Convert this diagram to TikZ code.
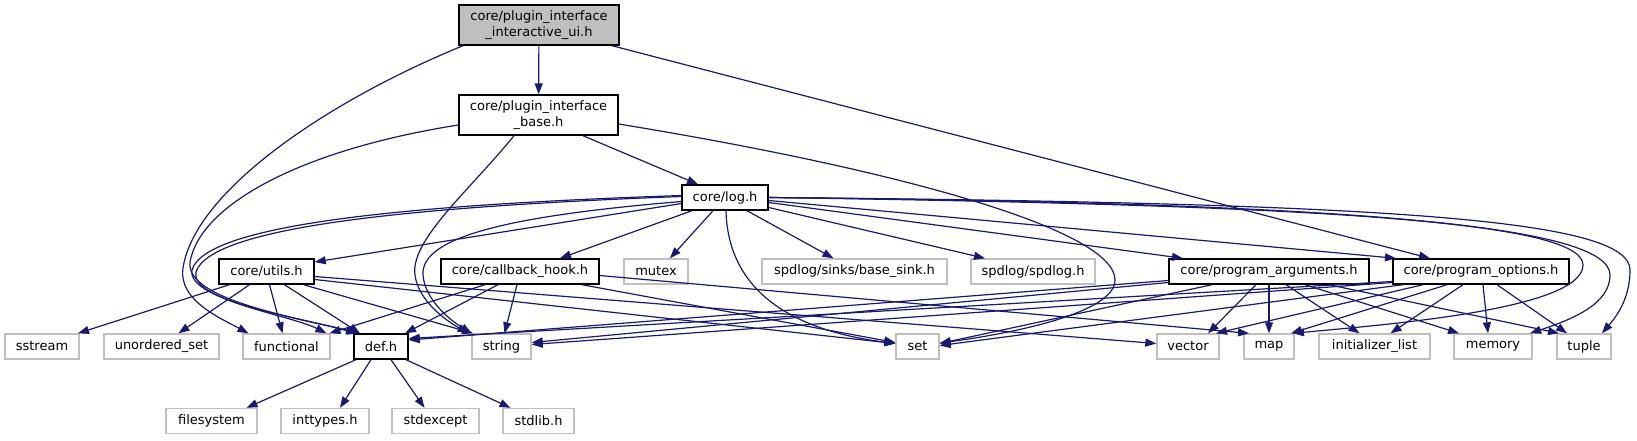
\documentclass[tikz,border=0pt]{standalone}
\usepackage{fontspec}
\setmainfont{DejaVu Sans}
\usetikzlibrary{arrows.meta}
\definecolor{edgec}{HTML}{191970}
\definecolor{grayc}{HTML}{BFBFBF}
\begin{document}
\begin{tikzpicture}[x=1pt,y=-1pt,
 every node/.style={font=\fontsize{13}{16}\selectfont, inner sep=0pt, minimum height=25pt, line width=1.4pt},
 blk/.style={draw=black, fill=white},
 gry/.style={draw=grayc, fill=white},
 e/.style={draw=edgec, line width=1.2pt, -{Triangle[length=11pt,width=8pt]}}]
\useasboundingbox (0,0) rectangle (1637,440);
% nodes
\node[blk, fill=grayc, minimum width=160pt, minimum height=40pt, align=center] (top) at (539,25) {core/plugin\_interface\\\_interactive\_ui.h};
\node[blk, minimum width=159pt, minimum height=40pt, align=center] (base) at (538.5,115) {core/plugin\_interface\\\_base.h};
\node[blk, minimum width=86pt] (log) at (725,197.5) {core/log.h};
\node[blk, minimum width=95pt] (utils) at (266.5,271.5) {core/utils.h};
\node[blk, minimum width=158pt] (callback) at (520,271.5) {core/callback\_hook.h};
\node[gry, minimum width=64pt] (mutex) at (656,271.5) {mutex};
\node[gry, minimum width=185pt] (basesink) at (854.5,271.5) {spdlog/sinks/base\_sink.h};
\node[gry, minimum width=124pt] (spdlog) at (1033,271.5) {spdlog/spdlog.h};
\node[blk, minimum width=200pt] (pargs) at (1269,271.5) {core/program\_arguments.h};
\node[blk, minimum width=176pt] (popts) at (1481,271.5) {core/program\_options.h};
\node[gry, minimum width=74pt] (sstream) at (42,346.5) {sstream};
\node[gry, minimum width=115pt] (uset) at (161.5,346.5) {unordered\_set};
\node[gry, minimum width=87pt] (functional) at (286.5,346.5) {functional};
\node[blk, minimum width=54pt] (def) at (381,346.5) {def.h};
\node[gry, minimum width=59pt] (string) at (501.5,346.5) {string};
\node[gry, minimum width=43pt] (set) at (917.5,346.5) {set};
\node[gry, minimum width=62pt] (vector) at (1188,346.5) {vector};
\node[gry, minimum width=50pt] (map) at (1269,346.5) {map};
\node[gry, minimum width=111pt] (init) at (1374.5,346.5) {initializer\_list};
\node[gry, minimum width=78pt] (memory) at (1493,346.5) {memory};
\node[gry, minimum width=54pt] (tuple) at (1584,346.5) {tuple};
\node[gry, minimum width=91pt] (filesystem) at (211.5,421) {filesystem};
\node[gry, minimum width=88pt] (inttypes) at (325,421) {inttypes.h};
\node[gry, minimum width=87pt] (stdexcept) at (435.5,421) {stdexcept};
\node[gry, minimum width=71pt] (stdlib) at (538.5,421) {stdlib.h};
% top
\draw[e] (top) -- (base);
\draw[e] ([xshift=-76pt]top.south) .. controls (330,100) and (195,190) .. (183,268) .. controls (178,300) and (220,318) .. ([xshift=-38pt]functional.north);
\draw[e] ([xshift=73pt]top.south) -- ([xshift=-51pt]popts.north);
% base
\draw[e] ([xshift=44.5pt]base.south) -- ([xshift=-27pt]log.north);
\draw[e] ([yshift=-10pt]base.west) .. controls (300,150) and (200,205) .. (190,262) .. controls (185,300) and (300,318) .. ([xshift=-24pt]def.north);
\draw[e] ([xshift=-24.5pt]base.south) .. controls (470,190) and (410,240) .. (415,275) .. controls (418,300) and (445,320) .. ([xshift=-33pt]string.north);
\draw[e] ([yshift=-9pt]base.east) .. controls (900,170) and (1115,230) .. (1115,280) .. controls (1115,315) and (1000,335) .. ([yshift=3.5pt]set.east);
% log
\draw[e] ([yshift=-6pt]log.west) -- ([yshift=9.5pt]utils.east);
\draw[e] ([xshift=-33pt]log.south) -- ([xshift=40pt]callback.north);
\draw[e] ([xshift=-12pt]log.south) -- ([xshift=14pt]mutex.north);
\draw[e] ([xshift=22pt]log.south) -- ([xshift=-21pt]basesink.north);
\draw[e] ([yshift=-10pt]log.east) -- ([xshift=-48pt]spdlog.north);
\draw[e] ([yshift=-5pt]log.east) -- ([xshift=-86pt]pargs.north);
\draw[e] ([yshift=-3pt]log.east) -- ([xshift=-85pt]popts.north);
\draw[e] ([yshift=2pt]log.west) .. controls (400,205) and (205,225) .. (192,270) .. controls (186,300) and (300,318) .. ([xshift=-22pt]def.north);
\draw[e] ([yshift=1pt]log.west) .. controls (400,207) and (210,228) .. (196,272) .. controls (190,300) and (290,315) .. ([xshift=40pt]functional.north);
\draw[e] ([yshift=-4pt]log.west) .. controls (520,215) and (420,235) .. (423,275) .. controls (425,300) and (450,320) .. ([xshift=-30pt]string.north);
\draw[e] ([xshift=1pt]log.south) .. controls (728,290) and (790,330) .. ([yshift=3pt]set.west);
\draw[e] (log.east) .. controls (1300,205) and (1583,220) .. (1583,265) .. controls (1583,310) and (1380,325) .. ([xshift=24pt]map.north);
\draw[e] (log.east) .. controls (1350,203) and (1610,225) .. (1610,275) .. controls (1610,305) and (1570,320) .. ([xshift=37pt]memory.north);
\draw[e] (log.east) .. controls (1400,203) and (1630,220) .. (1630,270) .. controls (1630,300) and (1615,318) .. ([xshift=18pt]tuple.north);
% utils
\draw[e] ([xshift=-37pt]utils.south) -- ([xshift=36pt]sstream.north);
\draw[e] ([xshift=-17pt]utils.south) -- ([xshift=17pt]uset.north);
\draw[e] ([xshift=3pt]utils.south) -- ([xshift=-4pt]functional.north);
\draw[e] ([xshift=18pt]utils.south) -- ([xshift=-21pt]def.north);
\draw[e] ([xshift=37pt]utils.south) -- ([xshift=-28.5pt]string.north);
\draw[e] ([yshift=-8pt]utils.east) -- ([yshift=3pt]set.west);
\draw[e] ([yshift=-5pt]utils.east) -- ([yshift=3pt]vector.west);
% callback
\draw[e] ([xshift=-35pt]callback.south) -- ([xshift=43pt]functional.north);
\draw[e] ([xshift=-22pt]callback.south) -- ([xshift=24pt]def.north);
\draw[e] ([xshift=-3pt]callback.south) -- ([xshift=3pt]string.north);
\draw[e] ([xshift=62pt]callback.south) -- ([yshift=4pt]set.west);
\draw[e] ([yshift=-4pt]callback.east) -- ([xshift=-20pt]map.north);
% def
\draw[e] ([xshift=-25pt]def.south) -- ([xshift=35pt]filesystem.north);
\draw[e] ([xshift=-10pt]def.south) -- ([xshift=15pt]inttypes.north);
\draw[e] ([xshift=10pt]def.south) -- ([xshift=-11pt]stdexcept.north);
\draw[e] ([xshift=25pt]def.south) -- ([xshift=-28pt]stdlib.north);
% program_arguments
\draw[e] ([yshift=-9pt]pargs.west) -- ([yshift=6.5pt]def.east);
\draw[e] ([yshift=-11pt]pargs.west) -- ([yshift=4pt]string.east);
\draw[e] ([xshift=-57pt]pargs.south) -- ([yshift=3pt]set.east);
\draw[e] ([xshift=-13pt]pargs.south) -- ([xshift=20pt]vector.north);
\draw[e] (pargs) -- (map);
\draw[e] ([xshift=17pt]pargs.south) -- ([xshift=-15pt]init.north);
\draw[e] ([xshift=36pt]pargs.south) -- ([xshift=-34pt]memory.north);
\draw[e] ([xshift=60pt]pargs.south) -- ([xshift=-25pt]tuple.north);
% program_options
\draw[e] ([yshift=-10pt]popts.west) -- ([yshift=8pt]def.east);
\draw[e] ([yshift=-11pt]popts.west) -- ([yshift=2pt]string.east);
\draw[e] ([xshift=-78pt]popts.south) -- ([yshift=1pt]set.east);
\draw[e] ([xshift=-58pt]popts.south) -- ([xshift=28pt]vector.north);
\draw[e] ([xshift=-34pt]popts.south) -- ([xshift=22pt]map.north);
\draw[e] ([xshift=-18pt]popts.south) -- ([xshift=16pt]init.north);
\draw[e] ([xshift=2pt]popts.south) -- ([xshift=-5pt]memory.north);
\draw[e] ([xshift=16pt]popts.south) -- ([xshift=-17pt]tuple.north);
\end{tikzpicture}
\end{document}
